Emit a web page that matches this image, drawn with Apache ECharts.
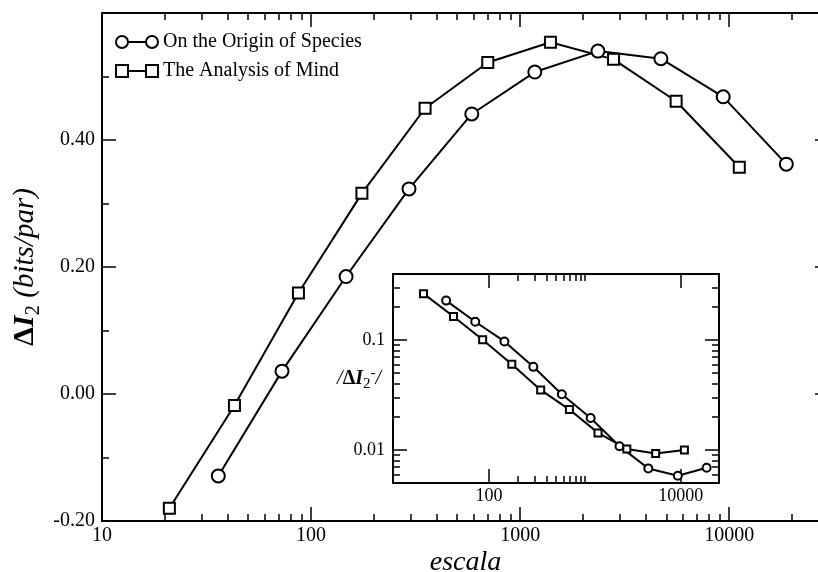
<!DOCTYPE html>
<html><head><meta charset="utf-8">
<script src="https://cdn.jsdelivr.net/npm/echarts@6/dist/echarts.min.js"></script>
<style>html,body{margin:0;padding:0;background:#fff}#c{width:818px;height:572px}</style>
</head><body><div id="c"></div>
<script>
// ---- data ----
const seriesNames = ['On the Origin of Species', 'The Analysis of Mind'];
// main panel: ΔI2 vs escala
const originX = [36, 72.6, 147, 294, 587, 1175, 2355, 4712, 9354, 18750];
const originY = [-0.129, 0.036, 0.185, 0.323, 0.441, 0.507, 0.540, 0.528, 0.468, 0.362];
const mindX = [21, 43, 87, 175, 351, 700, 1396, 2797, 5572, 11170];
const mindY = [-0.180, -0.018, 0.159, 0.316, 0.450, 0.522, 0.554, 0.527, 0.461, 0.357];
// inset: |ΔI2-| vs escala
const insetOriginX = [35.8, 72, 145, 290, 575, 1148, 2295, 4581, 9305, 18580];
const insetOriginY = [0.229, 0.147, 0.0973, 0.0571, 0.0322, 0.0195, 0.0108, 0.00679, 0.00583, 0.00689];
const insetMindX = [20.8, 42.7, 86, 173, 346, 690, 1371, 2735, 5467, 10900];
const insetMindY = [0.265, 0.164, 0.1006, 0.0603, 0.0352, 0.0233, 0.0143, 0.0102, 0.00927, 0.0100];
// ticks
const mainXMajor = [10, 100, 1000, 10000];
const mainXMinor = [20,30,40,50,60,70,80,90,200,300,400,500,600,700,800,900,2000,3000,4000,5000,6000,7000,8000,9000,20000];
const mainYMajor = [-0.2, 0, 0.2, 0.4, 0.6];
const mainYLabels = [-0.2, 0, 0.2, 0.4];
const mainYMinor = [-0.1, 0.1, 0.3, 0.5];
const insetXMajor = [100, 10000];
const insetXMinor = [200,300,400,500,600,700,800,900,1000];
const insetYMajor = [0.01, 0.1];
const insetYMinor = [0.006,0.007,0.008,0.009,0.02,0.03,0.04,0.05,0.06,0.07,0.08,0.09,0.2,0.3];

const FONT = '"Liberation Serif", "Times New Roman", serif';
const BLACK = '#000';

function zip(a, b) { return a.map((v, i) => [v, b[i]]); }

function axis(o) {
  const a = {
    type: o.type, gridIndex: o.grid, position: o.position,
    min: o.min, max: o.max,
    axisLine: { show: !!o.line, onZero: false, lineStyle: { color: BLACK, width: 2 } },
    axisTick: { show: true, inside: true, length: o.len, customValues: o.ticks, lineStyle: { color: BLACK, width: 1.5 } },
    axisLabel: { show: !!o.labels },
    splitLine: { show: false },
    minorTick: { show: false }, minorSplitLine: { show: false }
  };
  if (o.type === 'log') a.logBase = 10;
  if (o.interval) a.interval = o.interval;
  if (o.labels) {
    a.axisLabel = { show: true, customValues: o.labels, margin: o.margin, fontFamily: FONT,
      fontSize: o.fontSize, color: BLACK, formatter: o.formatter, hideOverlap: false };
  }
  if (o.name) {
    a.name = o.name; a.nameLocation = 'middle'; a.nameGap = o.nameGap;
    a.nameMoveOverlap = false;
    if (o.nameRotate !== undefined) a.nameRotate = o.nameRotate;
    a.nameTextStyle = o.nameTextStyle;
  }
  return a;
}

const logFmt = v => String(Math.round(v));
const insetYFmt = v => String(Number(v.toPrecision(3)));

const xAxes = [
  axis({ type: 'log', grid: 0, position: 'bottom', min: 10, max: 30000, line: true, len: 14, ticks: mainXMajor,
    labels: mainXMajor, margin: 5, fontSize: 20, formatter: logFmt,
    name: 'escala', nameGap: 28,
    nameTextStyle: { fontFamily: FONT, fontSize: 28, fontStyle: 'italic', color: BLACK } }),
  axis({ type: 'log', grid: 0, position: 'bottom', min: 10, max: 30000, line: false, len: 7, ticks: mainXMinor }),
  axis({ type: 'log', grid: 0, position: 'top', min: 10, max: 30000, line: true, len: 14, ticks: mainXMajor }),
  axis({ type: 'log', grid: 0, position: 'top', min: 10, max: 30000, line: false, len: 7, ticks: mainXMinor }),
  axis({ type: 'log', grid: 1, position: 'bottom', min: 10, max: 25000, line: true, len: 14, ticks: insetXMajor,
    labels: insetXMajor, margin: 4, fontSize: 18, formatter: logFmt }),
  axis({ type: 'log', grid: 1, position: 'bottom', min: 10, max: 25000, line: false, len: 7, ticks: insetXMinor }),
  axis({ type: 'log', grid: 1, position: 'top', min: 10, max: 25000, line: true, len: 14, ticks: insetXMajor }),
  axis({ type: 'log', grid: 1, position: 'top', min: 10, max: 25000, line: false, len: 7, ticks: insetXMinor })
];

const yAxes = [
  axis({ type: 'value', grid: 0, position: 'left', min: -0.2, max: 0.6, interval: 0.2, line: true, len: 14, ticks: mainYMajor,
    labels: mainYLabels, margin: 7, fontSize: 20, formatter: v => v.toFixed(2),
    name: '{d|Δ}{i|I}{s|2}{n| (bits/par)}', nameGap: 58,
    nameTextStyle: { fontFamily: FONT, color: BLACK,
      rich: {
        d: { fontFamily: FONT, fontSize: 30, fontWeight: 'bold', lineHeight: 38, color: BLACK },
        i: { fontFamily: FONT, fontSize: 30, fontWeight: 'bold', fontStyle: 'italic', lineHeight: 38, color: BLACK },
        s: { fontFamily: FONT, fontSize: 21, lineHeight: 21, verticalAlign: 'bottom', color: BLACK },
        n: { fontFamily: FONT, fontSize: 29, fontStyle: 'italic', lineHeight: 38, color: BLACK }
      } } }),
  axis({ type: 'value', grid: 0, position: 'left', min: -0.2, max: 0.6, interval: 0.2, line: false, len: 7, ticks: mainYMinor }),
  axis({ type: 'value', grid: 0, position: 'right', min: -0.2, max: 0.6, interval: 0.2, line: true, len: 14, ticks: mainYMajor }),
  axis({ type: 'value', grid: 0, position: 'right', min: -0.2, max: 0.6, interval: 0.2, line: false, len: 7, ticks: mainYMinor }),
  axis({ type: 'log', grid: 1, position: 'left', min: 0.005, max: 0.4, line: true, len: 14, ticks: insetYMajor,
    labels: insetYMajor, margin: 8, fontSize: 18, formatter: insetYFmt,
    name: '{b|/}{d|Δ}{i|I}{s|2}{p|-}{b|/}', nameGap: 12, nameRotate: 0,
    nameTextStyle: { fontFamily: FONT, color: BLACK,
      rich: {
        b: { fontFamily: FONT, fontSize: 20, fontStyle: 'italic', lineHeight: 26, color: BLACK },
        d: { fontFamily: FONT, fontSize: 20, fontWeight: 'bold', lineHeight: 26, color: BLACK },
        i: { fontFamily: FONT, fontSize: 20, fontWeight: 'bold', fontStyle: 'italic', lineHeight: 26, color: BLACK },
        s: { fontFamily: FONT, fontSize: 15, lineHeight: 15, verticalAlign: 'bottom', color: BLACK },
        p: { fontFamily: FONT, fontSize: 15, lineHeight: 15, verticalAlign: 'top', color: BLACK }
      } } }),
  axis({ type: 'log', grid: 1, position: 'left', min: 0.005, max: 0.4, line: false, len: 7, ticks: insetYMinor }),
  axis({ type: 'log', grid: 1, position: 'right', min: 0.005, max: 0.4, line: true, len: 14, ticks: insetYMajor }),
  axis({ type: 'log', grid: 1, position: 'right', min: 0.005, max: 0.4, line: false, len: 7, ticks: insetYMinor })
];

function lineSeries(name, data, xi, yi, symbol, size, lw) {
  return {
    type: 'line', name, data, xAxisIndex: xi, yAxisIndex: yi,
    symbol, symbolSize: size, showAllSymbol: true,
    itemStyle: { color: '#fff', borderColor: BLACK, borderWidth: 2 },
    lineStyle: { color: BLACK, width: lw },
    emphasis: { disabled: true }, silent: true, z: 3
  };
}

const circleIcon = 'path://M1,7A6,6,0,1,1,13,7A6,6,0,1,1,1,7ZM13,7L31,7M31,7A6,6,0,1,1,43,7A6,6,0,1,1,31,7Z';
const squareIcon = 'path://M1,1L13,1L13,13L1,13ZM13,7L31,7M31,1L43,1L43,13L31,13Z';

const option = {
  animation: false,
  backgroundColor: '#fff',
  grid: [
    { left: 102, top: 13, width: 727, height: 508, outerBoundsMode: 'none', containLabel: false },
    { left: 393, top: 274, width: 326, height: 209, outerBoundsMode: 'none', containLabel: false }
  ],
  xAxis: xAxes,
  yAxis: yAxes,
  legend: {
    orient: 'vertical', left: 110, top: 27, itemWidth: 42, itemHeight: 12, itemGap: 9,
    selectedMode: false,
    textStyle: { fontFamily: FONT, fontSize: 20, color: BLACK, lineHeight: 20 },
    itemStyle: { color: '#fff', borderColor: BLACK, borderWidth: 2 },
    data: [ { name: seriesNames[0], icon: circleIcon }, { name: seriesNames[1], icon: squareIcon } ]
  },
  series: [
    lineSeries(seriesNames[0], zip(originX, originY), 0, 0, 'circle', 13, 2),
    lineSeries(seriesNames[1], zip(mindX, mindY), 0, 0, 'rect', 11, 2),
    lineSeries(seriesNames[0], zip(insetOriginX, insetOriginY), 4, 4, 'circle', 8, 2),
    lineSeries(seriesNames[1], zip(insetMindX, insetMindY), 4, 4, 'rect', 7, 2)
  ]
};

const chart = echarts.init(document.getElementById('c'), null, { renderer: 'canvas' });
chart.setOption(option);
</script>
</body></html>
